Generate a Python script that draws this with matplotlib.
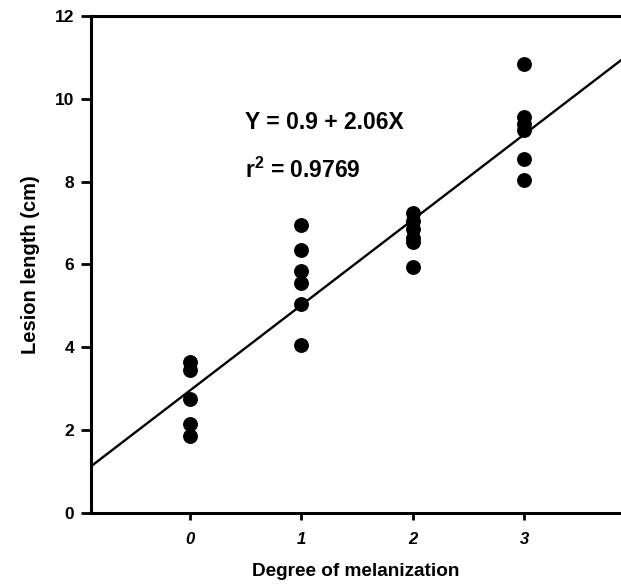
import matplotlib
matplotlib.use("Agg")
import matplotlib.pyplot as plt
import numpy as np

plt.rcParams['font.family'] = ['Liberation Sans', 'DejaVu Sans']
plt.rcParams['mathtext.fontset'] = 'custom'
plt.rcParams['mathtext.bf'] = 'Liberation Sans:bold'
plt.rcParams['mathtext.rm'] = 'Liberation Sans:bold'

# Data
deg0 = [3.65, 3.45, 2.75, 2.15, 1.85]
deg1 = [6.95, 6.35, 5.85, 5.55, 5.05, 4.05]
deg2 = [7.25, 7.05, 6.85, 6.65, 6.55, 5.95]
deg3 = [10.85, 9.55, 9.4, 9.25, 8.55, 8.05]
degrees = [0, 1, 2, 3]
intercept = 0.9
slope = 2.06
x_ticks = [0, 1, 2, 3]
y_ticks = [0, 2, 4, 6, 8, 10, 12]

fig = plt.figure(figsize=(6.21, 5.84), dpi=100)
ax = fig.add_axes([0.1465, 0.1216, 0.8535, 0.851])

for d, vals in zip(degrees, [deg0, deg1, deg2, deg3]):
    ax.scatter([d] * len(vals), vals, s=115, color='black', zorder=3, linewidths=0)

xlim = (-0.89, 3.87)
xl = np.array(xlim)
ax.plot(xl, intercept + slope * (xl + 1), color='black', lw=1.7, zorder=2)

ax.set_xlim(*xlim)
ax.set_ylim(0, 12)
ax.set_xticks(x_ticks)
ax.set_xticklabels([str(t) for t in x_ticks], fontsize=12, fontweight='bold', fontstyle='italic')
ax.set_yticks(y_ticks)
ax.set_yticklabels([str(t) for t in y_ticks], fontsize=12.5, fontweight='bold')

ax.spines['right'].set_visible(False)
for s in ['left', 'bottom', 'top']:
    ax.spines[s].set_linewidth(2.2)
ax.tick_params(axis='y', direction='out', length=7, width=2, pad=5)
ax.tick_params(axis='x', direction='out', length=5, width=2, pad=9)

ax.set_xlabel('Degree of melanization', fontsize=13.7, fontweight='bold', labelpad=11)
ax.set_ylabel('Lesion length (cm)', fontsize=14.5, fontweight='bold', labelpad=11)

ax.text(0.49, 9.42, 'Y = 0.9 + 2.06X', fontsize=16.5, fontweight='bold', va='center')
ax.text(0.49, 8.28, r'r$^{\mathbf{2}}$ = 0.9769', fontsize=16.5, fontweight='bold', va='center')

fig.savefig('out.png', dpi=100)
